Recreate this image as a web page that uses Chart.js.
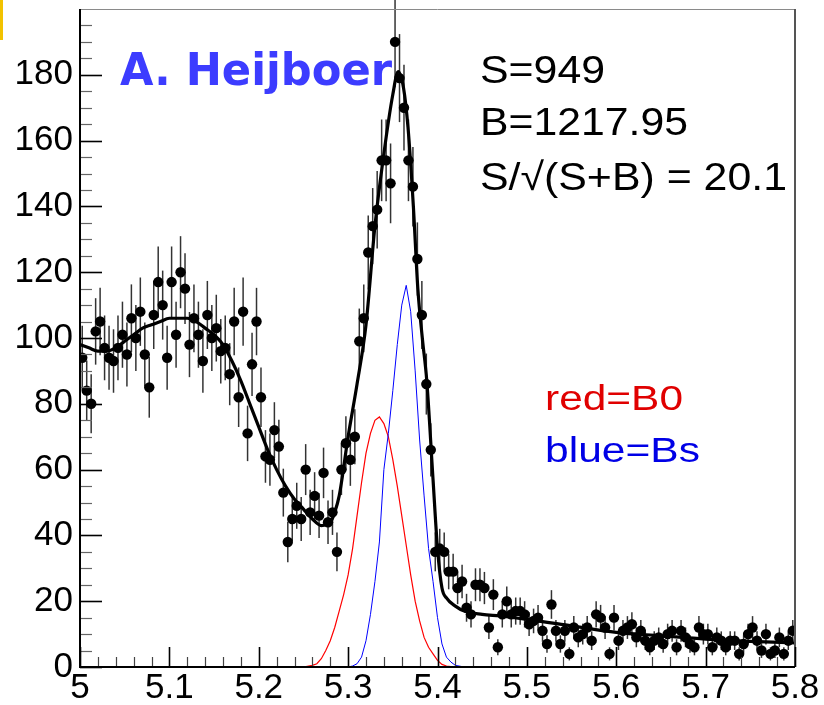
<!DOCTYPE html>
<html>
<head>
<meta charset="utf-8">
<script src="https://cdn.jsdelivr.net/npm/chart.js@4.4.1/dist/chart.umd.min.js"></script>
<style>
html, body { margin: 0; padding: 0; background: #fff; }
#wrap { width: 824px; height: 705px; }
</style>
</head>
<body>
<div id="wrap"><canvas id="massPlot" width="824" height="705"></canvas></div>
<script>
// invariant mass, 160 bins of 5 MeV from 5.0 to 5.8 GeV
const massLo = 5.0;
const binWidth = 0.005;
const counts = [
  94, 84, 80, 102, 105, 97, 94, 93, 97, 101, 95, 106, 100, 108, 95, 85, 107, 117, 110, 94,
  117, 101, 120, 115, 98, 106, 101, 93, 107, 100, 103, 96, 97, 89, 105, 82, 108, 71, 92, 105,
  82, 64, 63, 72, 67, 53, 38, 45, 49, 45, 60, 47, 52, 46, 59, 44, 47, 35, 60, 68,
  63, 70, 99, 106, 126, 134, 139, 154, 154, 147, 190, 179, 170, 154, 146, 124, 107, 86, 66, 35,
  36, 35, 29, 29, 24, 26, 18, 16, 25, 25, 24, 12, 22, 6, 16, 20, 16, 17, 17, 16,
  13, 14, 15, 11, 7, 19, 11, 7, 11, 4, 12, 9, 10, 12, 8, 16, 15, 12, 4, 15,
  8, 11, 12, 13, 9, 11, 8, 6, 8, 9, 7, 10, 11, 6, 11, 9, 7, 6, 12, 10,
  10, 6, 9, 8, 6, 8, 8, 4, 7, 10, 12, 8, 5, 10, 4, 5, 9, 4, 8, 11
];

// total fit (background + B0 + Bs)
const fitX = [5.00, 5.01, 5.02, 5.03, 5.04, 5.05, 5.06, 5.07, 5.08, 5.09, 5.10, 5.11, 5.12, 5.13, 5.14,
  5.15, 5.16, 5.17, 5.18, 5.19, 5.20, 5.21, 5.22, 5.23, 5.24, 5.25, 5.26, 5.27, 5.28, 5.285, 5.29,
  5.30, 5.31, 5.32, 5.33, 5.34, 5.35, 5.356, 5.362, 5.367, 5.373, 5.378, 5.383, 5.388, 5.395, 5.40,
  5.405, 5.41, 5.42, 5.43, 5.45, 5.47, 5.50, 5.55, 5.60, 5.65, 5.70, 5.75, 5.80];
const fitY = [98, 97, 96, 96, 97, 99, 101, 103, 104, 105, 106, 106, 106, 105, 103,
  101, 98, 93, 87, 80, 73, 66, 60, 55, 51, 48, 45, 43, 44, 47, 52,
  70, 86, 104, 134, 156, 174, 181, 176, 164, 140, 115, 100, 87, 57, 36,
  24, 21, 18.5, 17, 16, 15.5, 14.5, 12.5, 10.5, 9.5, 8.5, 7.8, 7.3];

// B0 component
const b0X = [5.00, 5.25, 5.26, 5.265, 5.27, 5.275, 5.28, 5.285, 5.29, 5.295, 5.30, 5.305, 5.31, 5.315,
  5.32, 5.325, 5.33, 5.335, 5.34, 5.345, 5.35, 5.355, 5.36, 5.365, 5.37, 5.375, 5.38, 5.385, 5.39,
  5.395, 5.40, 5.405, 5.41, 5.42, 5.80];
const b0Y = [0, 0, 0.5, 1, 2.5, 5, 8, 12, 17, 22, 28, 36, 46, 56,
  65, 71, 75, 76, 74, 70, 63, 55, 46, 37, 28, 20, 14, 9, 6,
  4, 2, 0.8, 0.3, 0, 0];

// Bs component
const bsX = [5.25, 5.30, 5.305, 5.31, 5.315, 5.32, 5.325, 5.33, 5.335, 5.34, 5.345, 5.35, 5.355, 5.36,
  5.365, 5.37, 5.375, 5.38, 5.385, 5.39, 5.395, 5.40, 5.405, 5.41, 5.415, 5.42, 5.43];
const bsY = [0, 0, 0.3, 1, 3, 8, 16, 26, 38, 60, 71, 84, 98, 110,
  116, 108, 90, 69, 52, 36, 26, 15, 7, 3, 1.5, 0.5, 0];

const xTickValues = [5, 5.1, 5.2, 5.3, 5.4, 5.5, 5.6, 5.7, 5.8];
const xTickLabels = ['5', '5.1', '5.2', '5.3', '5.4', '5.5', '5.6', '5.7', '5.8'];
const yTickValues = [0, 20, 40, 60, 80, 100, 120, 140, 160, 180];
const yTickLabels = ['0', '20', '40', '60', '80', '100', '120', '140', '160', '180'];

const binCenters = counts.map((_, i) => massLo + (i + 0.5) * binWidth);
const pts = counts.map((n, i) => ({ x: binCenters[i], y: n }));
const toXY = (xs, ys) => xs.map((v, i) => ({ x: v, y: ys[i] }));

function stretchText(ctx, str, x, yb, font, color, width) {
  ctx.save();
  ctx.font = font;
  const w = ctx.measureText(str).width;
  ctx.translate(x, yb);
  ctx.scale(width / w, 1);
  ctx.fillStyle = color;
  ctx.textBaseline = 'alphabetic';
  ctx.textAlign = 'left';
  ctx.fillText(str, 0, 0);
  ctx.restore();
}

const histDecor = {
  id: 'histDecor',
  beforeDatasetsDraw(chart) {
    const { ctx, scales: { x, y } } = chart;
    // sqrt(N) error bars plus bin-width bars
    ctx.save();
    ctx.strokeStyle = 'rgba(0,0,0,0.8)';
    counts.forEach((n, i) => {
      const px = x.getPixelForValue(binCenters[i]);
      const py = y.getPixelForValue(n);
      const e = Math.sqrt(n);
      ctx.lineWidth = 1.5;
      ctx.beginPath();
      ctx.moveTo(px, y.getPixelForValue(Math.max(n - e, 0)));
      ctx.lineTo(px, y.getPixelForValue(n + e));
      ctx.stroke();
      ctx.lineWidth = 2;
      ctx.beginPath();
      ctx.moveTo(x.getPixelForValue(binCenters[i] - binWidth / 2), py);
      ctx.lineTo(x.getPixelForValue(binCenters[i] + binWidth / 2), py);
      ctx.stroke();
    });
    ctx.restore();
  },
  afterDraw(chart) {
    const { ctx, chartArea: a, scales: { x, y } } = chart;
    ctx.save();
    // frame
    ctx.strokeStyle = '#8a8a8a';
    ctx.lineWidth = 1;
    ctx.beginPath();
    ctx.moveTo(a.left, a.top + 0.5);
    ctx.lineTo(a.right, a.top + 0.5);
    ctx.stroke();
    ctx.strokeStyle = '#555';
    ctx.lineWidth = 2;
    ctx.beginPath();
    ctx.moveTo(a.right, a.top);
    ctx.lineTo(a.right, a.bottom);
    ctx.stroke();

    // ticks pointing into the frame
    for (let v = 0; v < 200; v += 5) {
      const py = Math.round(y.getPixelForValue(v)) + 0.5;
      const major = v % 20 === 0;
      ctx.strokeStyle = major ? '#000' : '#666';
      ctx.lineWidth = major ? 1.6 : 1.2;
      ctx.beginPath();
      ctx.moveTo(a.left, py);
      ctx.lineTo(a.left + (major ? 22 : 12), py);
      ctx.stroke();
    }
    for (let k = 0; k <= 40; k++) {
      const px = Math.round(x.getPixelForValue(5 + k * 0.02)) + 0.5;
      const major = k % 5 === 0;
      ctx.strokeStyle = major ? '#000' : '#444';
      ctx.lineWidth = major ? 1.6 : 1.2;
      ctx.beginPath();
      ctx.moveTo(px, a.bottom);
      ctx.lineTo(px, a.bottom - (major ? 20 : 10));
      ctx.stroke();
    }

    // axes
    ctx.strokeStyle = '#000';
    ctx.lineWidth = 2;
    ctx.beginPath();
    ctx.moveTo(a.left, a.top);
    ctx.lineTo(a.left, a.bottom);
    ctx.lineTo(a.right, a.bottom);
    ctx.stroke();

    // corner marker
    ctx.fillStyle = '#f2c200';
    ctx.fillRect(0, 0, 3, 40);

    // labels
    stretchText(ctx, 'A. Heijboer', 120, 85, 'bold 44px "DejaVu Sans"', '#3c3cff', 272);
    stretchText(ctx, 'S=949', 480, 83, '39px "Liberation Sans"', '#000', 125);
    stretchText(ctx, 'B=1217.95', 480, 135, '39px "Liberation Sans"', '#000', 208);
    stretchText(ctx, 'S/\u221A(S+B) = 20.1', 480, 190, '39px "Liberation Sans"', '#000', 307);
    stretchText(ctx, 'red=B0', 545, 410, '35px "Liberation Sans"', '#e00000', 138);
    stretchText(ctx, 'blue=Bs', 545, 462, '35px "Liberation Sans"', '#0000e6', 155);
    ctx.restore();
  }
};

const tickFont = { family: '"Liberation Sans", Arial, sans-serif', size: 35 };

new Chart(document.getElementById('massPlot'), {
  type: 'scatter',
  data: {
    datasets: [
      { label: 'data', data: pts, showLine: false, pointRadius: 5.2, pointBackgroundColor: '#000',
        pointBorderWidth: 0, order: 0 },
      { label: 'fit', data: toXY(fitX, fitY), showLine: true, borderColor: '#000', borderWidth: 3.2,
        pointRadius: 0, cubicInterpolationMode: 'monotone', order: 1 },
      { label: 'Bs', data: toXY(bsX, bsY), showLine: true, borderColor: '#0000ff', borderWidth: 1,
        pointRadius: 0, tension: 0, order: 2 },
      { label: 'B0', data: toXY(b0X, b0Y), showLine: true, borderColor: '#ff0000', borderWidth: 1.2,
        pointRadius: 0, tension: 0, order: 3 }
    ]
  },
  options: {
    responsive: false,
    animation: false,
    layout: { padding: { top: 9, right: 29, left: 0, bottom: 0 } },
    plugins: { legend: { display: false }, tooltip: { enabled: false } },
    scales: {
      x: {
        type: 'linear', min: 5, max: 5.8,
        grid: { display: false, drawTicks: false },
        border: { display: false },
        afterBuildTicks: s => { s.ticks = xTickValues.map(v => ({ value: v })); },
        afterFit: s => { s.height = 38; s.paddingLeft = 0; s.paddingRight = 0; },
        ticks: { font: tickFont, color: '#000', padding: 0, maxRotation: 0, autoSkip: false,
          callback: (v, i) => xTickLabels[i] }
      },
      y: {
        type: 'linear', min: 0, max: 200,
        grid: { display: false, drawTicks: false },
        border: { display: false },
        afterBuildTicks: s => { s.ticks = yTickValues.map(v => ({ value: v })); },
        afterFit: s => { s.width = 80; s.paddingTop = 0; s.paddingBottom = 0; },
        ticks: { font: tickFont, color: '#000', padding: 7, autoSkip: false,
          callback: (v, i) => yTickLabels[i] }
      }
    }
  },
  plugins: [histDecor]
});
</script>
</body>
</html>
